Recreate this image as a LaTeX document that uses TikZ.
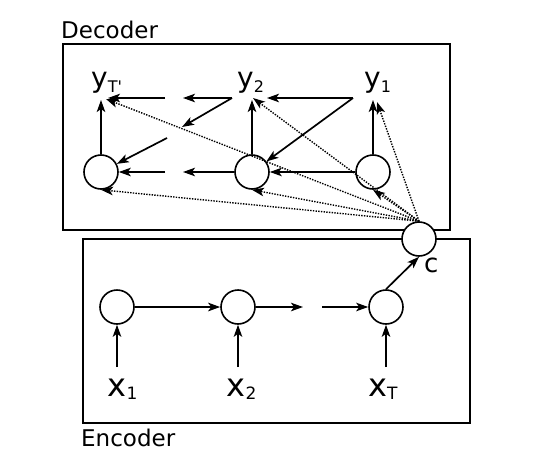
\documentclass[tikz,border=0pt]{standalone}
\usepackage{fontspec}
\setmainfont{DejaVu Sans}
\usetikzlibrary{arrows.meta}
\newcommand{\ylab}[1]{{\fontsize{28}{28}\selectfont y}{\fontsize{16}{16}\selectfont\raisebox{-5pt}{#1}}}
\newcommand{\xlab}[1]{{\fontsize{32}{32}\selectfont x}{\fontsize{17}{17}\selectfont\raisebox{-3pt}{#1}}}
\begin{document}
\begin{tikzpicture}[x=1pt,y=-1pt,
  box/.style={draw, line width=1.5pt},
  cell/.style={draw, circle, minimum size=34pt, inner sep=0pt, line width=1.6pt, fill=white},
  arr/.style={-{Stealth[length=12pt,width=8.5pt,inset=3pt]}, line width=1.7pt},
  dotarr/.style={-{Stealth[length=12pt,width=8.5pt,inset=3pt]}, line width=1.4pt, dash pattern=on 1.4pt off 1.3pt},
  lbl/.style={inner sep=0pt, anchor=base west},
  title/.style={inner sep=0pt, anchor=base west, font=\fontsize{23}{23}\selectfont}
]
\useasboundingbox (0,0) rectangle (546,463);

% boxes
\draw[box] (63,44) rectangle (450,230);
\draw[box] (83,239) rectangle (470,423);
\node[title] (dect) at (61,38) {Decoder};
\node[title] (enct) at (81,446.7) {Encoder};

% decoder cells
\node[cell] (d1) at (101,172) {};
\node[cell] (d2) at (252,172) {};
\node[cell] (d3) at (373,172) {};
% encoder cells
\node[cell] (e1) at (117,307) {};
\node[cell] (e2) at (238,307) {};
\node[cell] (e3) at (386,307) {};

% labels
\node[lbl] (yT) at (91,87) {\ylab{T\textquotesingle}};
\node[lbl] (y2) at (237,87) {\ylab{2}};
\node[lbl] (y1) at (364,87) {\ylab{1}};
\node[lbl] (x1) at (107.5,396) {\xlab{1}};
\node[lbl] (x2) at (226.5,396) {\xlab{2}};
\node[lbl] (xT) at (368,396) {\xlab{T}};

% helper coordinates
\coordinate (yTv) at (101,100);
\coordinate (y2v) at (252,100);
\coordinate (y1v) at (373,100);
\coordinate (yTe) at (108,98);
\coordinate (y2e) at (267,98);
\coordinate (f1) at (353,98);
\coordinate (f2) at (232,98);
\coordinate (g1) at (183,98);
\coordinate (g2) at (165,98);
\coordinate (g3) at (182,127);
\coordinate (g4) at (167,138);
\coordinate (g5) at (183,172);
\coordinate (g6) at (165,172);
\coordinate (h1) at (303,307);
\coordinate (h2) at (322,307);
\coordinate (x1v) at (117,367);
\coordinate (x2v) at (238,367);
\coordinate (xTv) at (386,367);
\coordinate (yTd) at (106,99);
\coordinate (y2d) at (253,98);
\coordinate (y1d) at (377,102);

% decoder solid arrows
\draw[arr] (d1.north) -- (yTv);
\draw[arr] (d2.north) -- (y2v);
\draw[arr] (d3.north) -- (y1v);
\draw[arr] (f1) -- (y2e);
\draw[arr] (f1) -- (d2);
\draw[arr] (f2) -- (g1);
\draw[arr] (g2) -- (yTe);
\draw[arr] (f2) -- (g3);
\draw[arr] (g4) -- (d1);
\draw[arr] (d3.west) -- (d2.east);
\draw[arr] (d2.west) -- (g5);
\draw[arr] (g6) -- (d1.east);

% context vector
\node[cell] (c) at (419,239) {};
\node[lbl, font=\fontsize{26}{26}\selectfont] (clab) at (424,272) {c};

% dotted arrows from c
\draw[dotarr] (c.north) -- (yTd);
\draw[dotarr] (c.north) -- (y2d);
\draw[dotarr] (c.north) -- (y1d);
\draw[dotarr] (c.north) -- (d1.south);
\draw[dotarr] (c.north) -- (d2.south);
\draw[dotarr] (c.north) -- (d3.south);

% encoder arrows
\draw[arr, line width=2.6pt] (e1.east) -- (e2.west);
\draw[arr] (e2.east) -- (h1);
\draw[arr] (h2) -- (e3.west);
\draw[arr] (e3.north) -- (c.south);
\draw[arr] (x1v) -- (e1.south);
\draw[arr] (x2v) -- (e2.south);
\draw[arr] (xTv) -- (e3.south);
\end{tikzpicture}
\end{document}
